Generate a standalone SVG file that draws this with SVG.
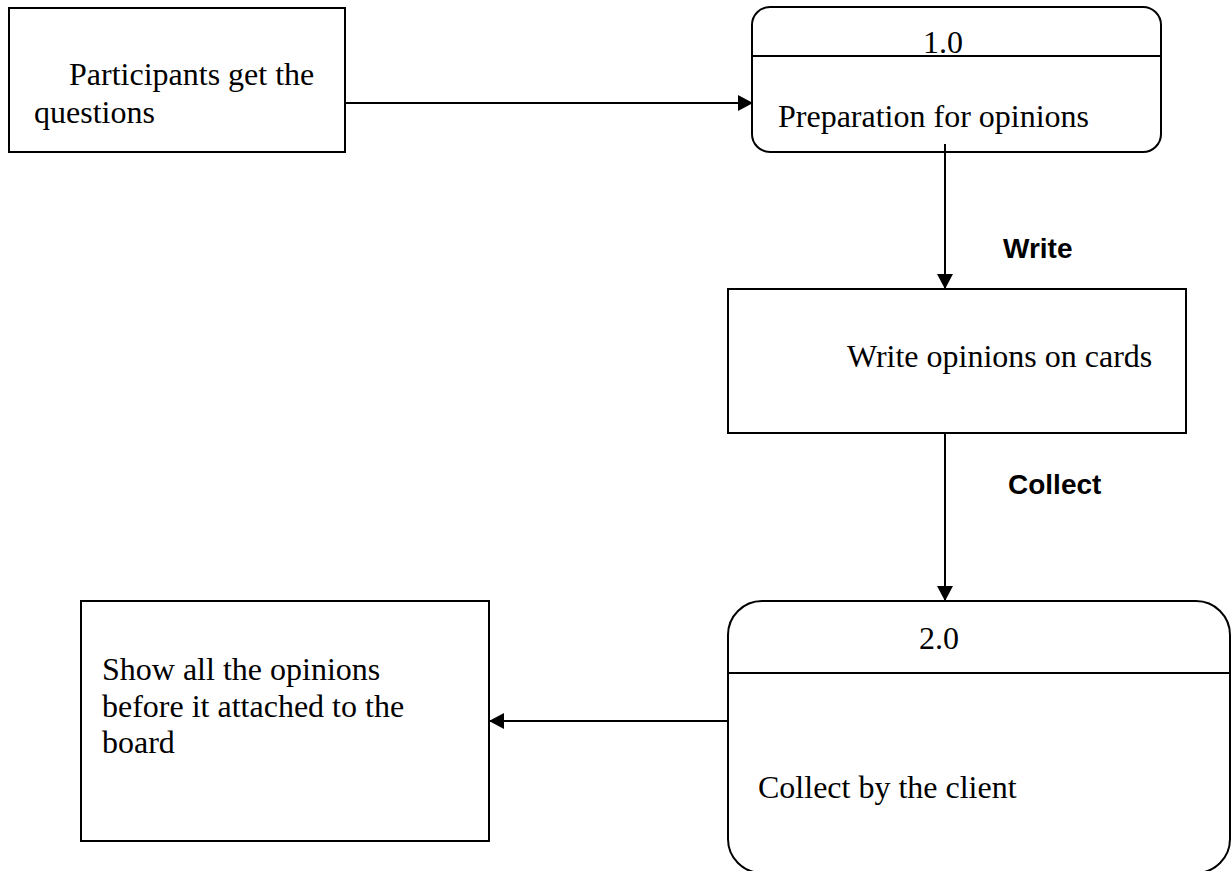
<svg xmlns="http://www.w3.org/2000/svg" width="1231" height="871" viewBox="0 0 1231 871">
<style>
.box{fill:#fff;stroke:#000;stroke-width:2}
.div{stroke:#000;stroke-width:2}
.t{font-family:"Liberation Serif","Times New Roman",serif;font-size:32px;fill:#000}
.lb{font-family:"Liberation Sans",Arial,sans-serif;font-size:28px;font-weight:bold;fill:#000}
.c{stroke:#000;stroke-width:2;fill:none;marker-end:url(#ah)}
</style>
<defs>
<marker id="ah" markerWidth="15" markerHeight="16" refX="15" refY="8" orient="auto" markerUnits="userSpaceOnUse">
<path d="M0,0 L15,8 L0,16 z" fill="#000"/>
</marker>
</defs>
<rect width="1231" height="871" fill="#fff"/>
<g id="connectors">
<line class="c" x1="345" y1="103" x2="753" y2="103"/>
<line class="c" x1="945" y1="144" x2="945" y2="289"/>
<line class="c" x1="945" y1="433" x2="945" y2="601"/>
<line class="c" x1="728" y1="721" x2="489" y2="721"/>
<text class="lb" x="1003" y="258">Write</text>
<text class="lb" x="1008" y="494">Collect</text>
</g>
<g id="node-participants">
<rect class="box" x="9" y="8" width="336" height="144"/>
<text class="t" x="69" y="85">Participants get the</text>
<text class="t" x="34" y="123">questions</text>
</g>
<g id="node-1">
<rect class="box" x="752" y="7" width="409" height="145" rx="18" ry="18"/>
<line class="div" x1="752" y1="56" x2="1161" y2="56"/>
<text class="t" x="923" y="53">1.0</text>
<text class="t" x="778" y="127">Preparation for opinions</text>
</g>
<line x1="945" y1="144" x2="945" y2="152" stroke="#000" stroke-width="2"/>
<g id="node-write">
<rect class="box" x="728" y="289" width="458" height="144"/>
<text class="t" x="847" y="367">Write opinions on cards</text>
</g>
<g id="node-2">
<rect class="box" x="728" y="601" width="502" height="272" rx="34" ry="34"/>
<line class="div" x1="728" y1="673" x2="1230" y2="673"/>
<text class="t" x="919" y="649">2.0</text>
<text class="t" x="758" y="798">Collect by the client</text>
</g>
<g id="node-show">
<rect class="box" x="81" y="601" width="408" height="240"/>
<text class="t" x="102" y="680">Show all the opinions</text>
<text class="t" x="102" y="717">before it attached to the</text>
<text class="t" x="102" y="753">board</text>
</g>
</svg>
